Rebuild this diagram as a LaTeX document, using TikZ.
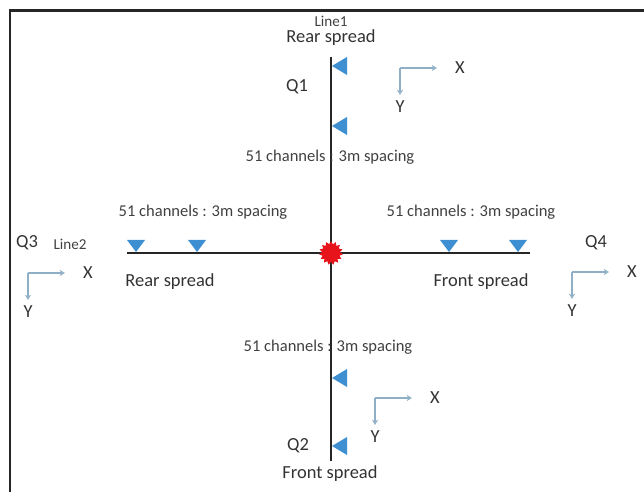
\documentclass[tikz,border=0pt]{standalone}
\usepackage{fontspec}
\setmainfont{Carlito}
\usetikzlibrary{arrows.meta,shapes.geometric}
\definecolor{geo}{HTML}{3D8FD1}
\definecolor{axis}{HTML}{8EAFC6}
\definecolor{shot}{HTML}{E8141B}

\begin{document}
\begin{tikzpicture}[x=0.02cm,y=-0.02cm,
  lbl/.style={font=\fontsize{10.5}{12}\selectfont,text=black!80,inner sep=0pt},
  chan/.style={font=\fontsize{9.4}{11}\selectfont,text=black!75,inner sep=0pt},
  tag/.style={font=\fontsize{8.6}{10}\selectfont,text=black!75,inner sep=0pt},
  ax/.style={-{Stealth[open,length=3pt,width=3.5pt]},axis,line width=.6pt}]
  \useasboundingbox (0,0) rectangle (644,492);
  \draw[black!85,line width=1.2pt] (10,492)--(10,10.5)--(644,10.5);
  % the two lines
  \coordinate (n) at (331,57);
  \coordinate (s) at (331,461);
  \coordinate (w) at (127,253);
  \coordinate (e) at (530,253);
  \draw[black!85,line width=1pt] (n)--(s);
  \draw[black!85,line width=1pt] (w)--(e);
  \node[star,star points=15,star point ratio=1.35,fill=shot,minimum size=.48cm,inner sep=0pt] (shot) at (331,253) {};
  % geophones
  \foreach \y in {66,126,378,446} \fill[geo] (332,\y)--(347,\y-9)--(347,\y+9)--cycle;
  \foreach \x in {136,197,449,518} \fill[geo] (\x-9,240)--(\x+9,240)--(\x,252)--cycle;
  % labels
  \node[tag] (line1) at (331,21) {Line1};
  \node[lbl] (rearN) at (331,38) {Rear spread};
  \node[lbl] (frontS) at (330,474) {Front spread};
  \node[lbl] (rearW) at (170,282) {Rear spread};
  \node[lbl] (frontE) at (481,282) {Front spread};
  \node[tag] (line2) at (70,244) {Line2};
  \node[chan] (chN) at (330,157) {51 channels : 3m spacing};
  \node[chan] (chS) at (328,347) {51 channels : 3m spacing};
  \node[chan] (chW) at (203,212) {51 channels : 3m spacing};
  \node[chan] (chE) at (471,212) {51 channels : 3m spacing};
  \node[lbl] (q1) at (297,87) {Q1};
  \node[lbl] (q2) at (298,446) {Q2};
  \node[lbl] (q3) at (27,243) {Q3};
  \node[lbl] (q4) at (596,243) {Q4};
  % local axes
  \foreach \cx/\cy/\q in {400/68/a,28/273/b,572/272/c,375/398/d} {
    \coordinate (o\q) at (\cx,\cy);
    \coordinate (xe\q) at (\cx+37,\cy);
    \coordinate (ye\q) at (\cx,\cy+27);
    \node[lbl] (x\q) at (\cx+60,\cy) {X};
    \node[lbl] (y\q) at (\cx,\cy+39) {Y};
    \draw[ax] (o\q)--(xe\q);
    \draw[ax] (o\q)--(ye\q);
  }
\end{tikzpicture}
\end{document}
